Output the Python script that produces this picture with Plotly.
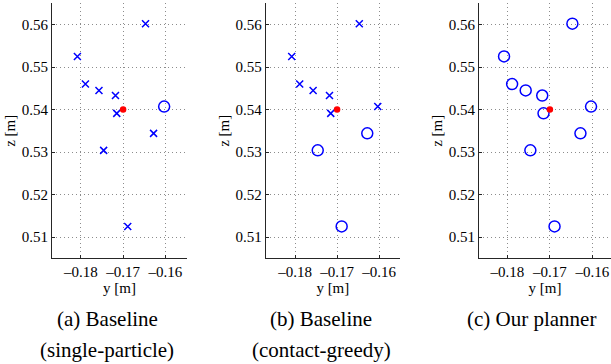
import plotly.graph_objects as go

# ---- data ----
y_pos = [-0.1808, -0.1789, -0.1757, -0.1718, -0.1715, -0.1746, -0.1647, -0.1628, -0.1689, -0.1603]
z_pos = [0.5525, 0.5460, 0.5445, 0.5433, 0.5391, 0.5304, 0.5602, 0.5344, 0.5125, 0.5407]
# 1 = success (circle), 0 = failure (cross)
success_single = [0, 0, 0, 0, 0, 0, 0, 0, 0, 1]
success_greedy = [0, 0, 0, 0, 0, 1, 0, 1, 1, 0]
success_ours = [1, 1, 1, 1, 1, 1, 1, 1, 1, 1]
target_y = [-0.170]
target_z = [0.540]
caption_line1 = ["(a) Baseline", "(b) Baseline", "(c) Our planner"]
caption_line2 = ["(single-particle)", "(contact-greedy)", ""]
x_ticks = [-0.18, -0.17, -0.16]
z_ticks = [0.51, 0.52, 0.53, 0.54, 0.55, 0.56]

W, H = 611, 364
FONT = "Liberation Serif"
BLUE = "#0000ff"
RED = "#ff0000"

panels = [
    (success_single, (52, 187), [-0.1868, -0.1549]),
    (success_greedy, (265.7, 400), [-0.1870, -0.1550]),
    (success_ours, (479, 611), [-0.1867, -0.1556]),
]
ydom = [(H - 258.3) / H, (H - 3.3) / H]

fig = go.Figure()
layout = dict(
    width=W, height=H,
    margin=dict(l=0, r=0, t=0, b=0, autoexpand=False),
    paper_bgcolor="white", plot_bgcolor="white",
    showlegend=False,
    font=dict(family=FONT, size=15, color="black"),
)

for i, (succ, (x0, x1), xr) in enumerate(panels):
    sfx = "" if i == 0 else str(i + 1)
    xa, ya = "x" + sfx, "y" + sfx
    fy = [y for y, s in zip(y_pos, succ) if s == 0]
    fz = [z for z, s in zip(z_pos, succ) if s == 0]
    sy = [y for y, s in zip(y_pos, succ) if s == 1]
    sz = [z for z, s in zip(z_pos, succ) if s == 1]
    fig.add_trace(go.Scatter(x=fy, y=fz, mode="markers", xaxis=xa, yaxis=ya,
                             marker=dict(symbol="x-thin", size=7, line=dict(color=BLUE, width=1.5))))
    fig.add_trace(go.Scatter(x=sy, y=sz, mode="markers", xaxis=xa, yaxis=ya,
                             marker=dict(symbol="circle-open", size=11, color=BLUE, line=dict(color=BLUE, width=1.5))))
    fig.add_trace(go.Scatter(x=target_y, y=target_z, mode="markers", xaxis=xa, yaxis=ya,
                             marker=dict(symbol="circle", size=6.5, color=RED)))

    common = dict(showgrid=True, gridcolor="#8c8c8c", griddash="1px,3px", gridwidth=1,
                  zeroline=False, showline=True, linecolor="#262626", linewidth=1,
                  ticks="inside", ticklen=3, tickcolor="#262626", automargin=False,
                  tickfont=dict(family=FONT, size=15, color="black"))
    layout["xaxis" + sfx] = dict(
        domain=[x0 / W, x1 / W], range=xr, anchor=ya,
        tickvals=x_ticks, ticktext=[f"{v:.2f}".replace("-", "\u2013") for v in x_ticks],
        title=dict(text="y [m]", font=dict(family=FONT, size=15), standoff=2),
        **common)
    layout["yaxis" + sfx] = dict(
        domain=ydom, range=[0.505, 0.565], anchor=xa,
        tickvals=z_ticks, ticktext=[f"{v:.2f}" for v in z_ticks],
        title=dict(text="z [m]", font=dict(family=FONT, size=15), standoff=2),
        **common)

cap_x = [107, 321, 531]
annotations = []
for cx, l1, l2 in zip(cap_x, caption_line1, caption_line2):
    for txt, cy in ((l1, 319), (l2, 350)):
        if not txt:
            continue
        annotations.append(dict(
            text=txt, x=cx / W, y=(H - cy) / H, xref="paper", yref="paper",
            xanchor="center", yanchor="middle", showarrow=False, align="center",
            font=dict(family=FONT, size=21, color="black")))
layout["annotations"] = annotations

fig.update_layout(**layout)
fig.write_html(
    "out.html",
    config={"displayModeBar": False},
    post_script="document.body.style.margin='0';document.body.style.padding='0';document.body.style.overflow='hidden';",
)
